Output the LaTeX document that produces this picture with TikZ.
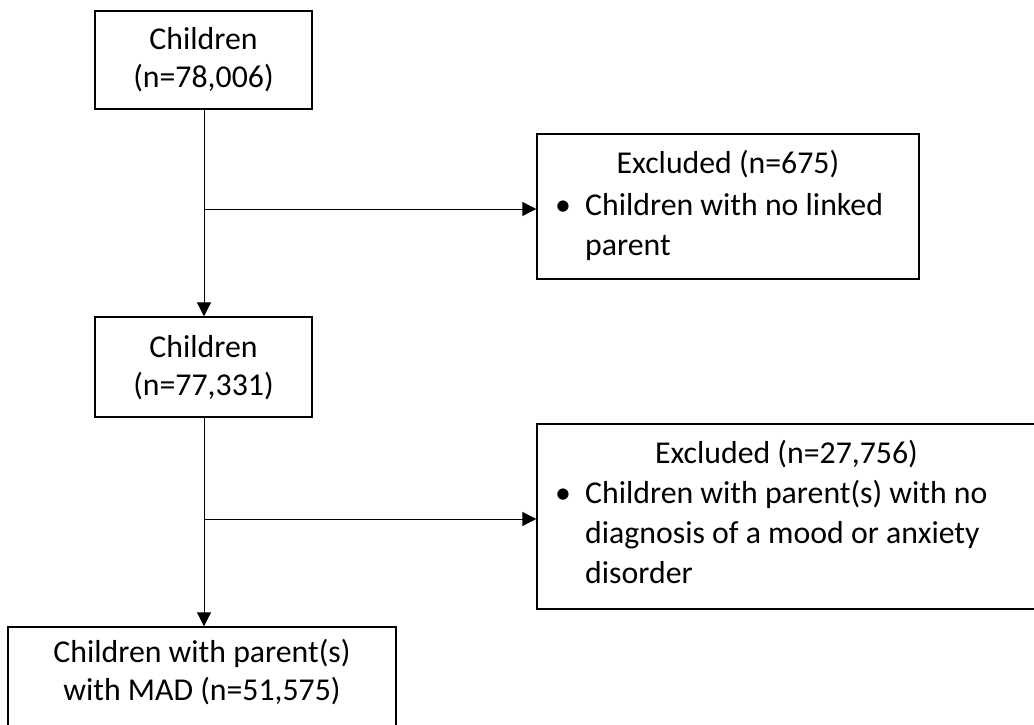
\documentclass[tikz,border=0pt]{standalone}
\usepackage{fontspec}
\setmainfont{Carlito}
\usetikzlibrary{arrows.meta}
\begin{document}
\begin{tikzpicture}[x=1pt,y=-1pt,
  box/.style={draw, line width=1.4pt, inner sep=0pt},
  conn/.style={line width=1pt, -{Triangle[length=14pt,width=14pt]}},
  txt/.style={inner sep=0pt, anchor=base, font=\fontsize{31.8}{36}\selectfont},
  txtl/.style={inner sep=0pt, anchor=base west, font=\fontsize{31.8}{36}\selectfont}]
\useasboundingbox (0,0) rectangle (1034,725);
% boxes
\node[box, minimum width=217pt, minimum height=98pt]  (c1) at (203.5,60) {};
\node[box, minimum width=382pt, minimum height=145pt] (e1) at (728,206.5) {};
\node[box, minimum width=217pt, minimum height=100pt] (c2) at (203.5,367) {};
\node[box, minimum width=499pt, minimum height=185pt] (e2) at (786.5,516.5) {};
\node[box, minimum width=388pt, minimum height=100pt] (c3) at (202,677) {};
% texts
\node[txt] (t1a) at (203.5,50) {Children};
\node[txt] (t1b) at (203.5,88) {(n=78,006)};
\node[txt] (t2a) at (203.5,357) {Children};
\node[txt] (t2b) at (203.5,395) {(n=77,331)};
\node[txt] (t3a) at (202,662) {Children with parent(s)};
\node[txt] (t3b) at (202,700) {with MAD (n=51,575)};
\node[txt] (x1t) at (728,173) {Excluded (n=675)};
\node[txt] (x1b) at (563,215) {•};
\node[txtl] (x1l1) at (585,215) {Children with no linked};
\node[txtl] (x1l2) at (585,255) {parent};
\node[txt] (x2t) at (786.5,463) {Excluded (n=27,756)};
\node[txt] (x2b) at (563,503) {•};
\node[txtl] (x2l1) at (585,503) {Children with parent(s) with no};
\node[txtl] (x2l2) at (585,543) {diagnosis of a mood or anxiety};
\node[txtl] (x2l3) at (585,583) {disorder};
% connectors
\coordinate (b1) at (204,209);
\coordinate (b2) at (204,519);
\draw[conn] (c1.south -| b1) -- (c2.north -| b1);
\draw[conn] (b1) -- (b1 -| e1.west);
\draw[conn] (c2.south -| b2) -- (c3.north -| b2);
\draw[conn] (b2) -- (b2 -| e2.west);
\end{tikzpicture}
\end{document}
